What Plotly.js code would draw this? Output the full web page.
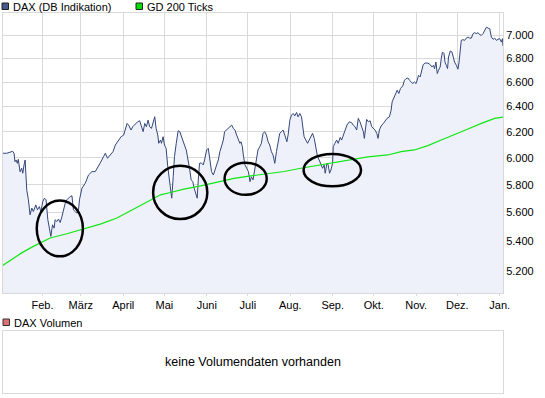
<!DOCTYPE html>
<html>
<head>
<meta charset="utf-8">
<script src="https://cdn.plot.ly/plotly-3.0.1.min.js"></script>
<style>
html,body{margin:0;padding:0;background:#fff;}
#chart{width:545px;height:398px;}
</style>
</head>
<body>
<div id="chart"></div>
<script>
// ---- data ----
// x: days since 2010-01-01, y: index level
const daxDays = [1.9,4.9,7.3,9.2,10.2,10.9,11.7,12.6,13.3,14.6,15.8,16.6,17.5,18.3,19.5,20.7,21.9,23.2,24.3,26.1,27.3,28.7,29.8,31.2,32.4,33.6,34.9,36.1,37.1,38.3,39.5,40.2,41.5,42.7,43.9,45.1,46.3,47.6,48.8,50.0,51.2,52.5,53.6,54.9,56.1,57.3,58.0,59.8,62.2,64.6,67.1,69.5,71.9,
73.2,75.6,76.9,78.5,80.5,82.5,84.2,86.6,88.4,90.3,91.5,92.8,93.9,95.7,96.9,98.1,99.6,100.5,102.0,103.0,104.5,105.7,106.9,108.1,109.3,110.6,111.8,113.0,114.0,115.2,115.9,117.2,117.9,119.1,120.1,121.3,122.5,123.7,124.5,125.4,126.5,127.4,128.7,130.1,131.3,132.5,133.8,134.7,136.0,137.2,138.4,139.6,140.8,141.8,143.0,144.0,144.8,145.7,
147.0,148.4,149.4,150.9,152.1,153.3,154.5,155.8,156.9,158.2,159.4,160.6,161.8,163.1,164.0,165.3,166.8,167.9,169.2,170.4,171.6,172.8,174.1,175.2,176.0,177.0,177.7,178.9,180.2,181.4,182.6,183.6,184.8,186.0,187.3,188.4,189.7,190.9,192.1,193.3,194.6,195.8,197.0,198.2,199.4,200.7,201.9,203.1,204.3,205.6,206.7,208.0,209.5,210.4,211.7,212.9,214.1,215.3,216.6,217.7,219.0,220.2,
221.4,222.1,223.4,224.6,225.8,227.0,228.3,229.5,230.7,231.9,233.1,234.4,235.6,236.8,237.5,238.8,239.7,240.7,241.7,242.9,243.4,244.6,245.9,247.0,248.5,249.5,250.7,251.9,253.4,255.1,256.9,258.0,259.3,260.5,261.7,262.9,264.2,265.4,266.1,266.8,267.8,269.0,270.3,271.5,272.7,273.9,275.2,276.1,277.1,278.3,280.0,281.3,282.7,284.4,285.7,286.4,287.6,288.8,290.1,291.3,292.5,
294.2,295.4,296.6,297.9,299.1,300.3,301.5,302.7,303.9,304.7,305.7,306.9,308.1,309.1,310.6,312.5,314.2,315.5,316.6,317.4,318.4,319.4,320.3,321.5,322.3,323.2,324.3,325.0,326.0,326.9,327.6,328.9,330.1,331.1,332.0,333.3,334.5,335.3,336.2,336.9,338.2,339.4,340.6,341.8,343.0,344.3,345.5,346.7,347.9,349.2,350.3,351.6,352.8,354.0,355.3,356.5,357.7,358.9,360.2,361.3,362.6,363.8,365.0,366.2,367.0,367.4];

const daxValues = [6034,6034,6042,6049,6034,5970,5983,5958,5988,5895,5921,5884,5946,5983,5762,5690,5584,5631,5607,5654,5619,5642,5607,5678,5702,5690,5549,5480,5434,5514,5491,5549,5537,5554,5530,5568,5619,5666,5690,5702,5714,5719,5619,5607,5595,5619,5690,5774,5810,5871,5896,5896,5946,
5961,6008,6034,5996,6021,6046,6097,6135,6161,6174,6226,6265,6252,6213,6239,6252,6265,6278,6286,6252,6200,6265,6239,6291,6239,6226,6278,6318,6226,6174,6110,6135,6110,6161,6097,6072,5933,5822,5750,5702,5858,6008,6110,6208,6200,6161,6110,6097,6059,5996,5921,5835,5822,5774,5737,5702,5835,5958,
5961,5946,5983,6059,6072,5983,5896,5871,5908,5946,5983,6046,6084,6135,6200,6213,6226,6239,6252,6226,6213,6174,6135,6110,6122,6084,6021,5946,5921,5896,5822,5858,5835,5908,5983,6059,6084,6110,6187,6200,6174,6122,6097,6046,6021,5958,6046,6135,6187,6200,6213,6174,6122,6174,6291,6331,6344,6325,6352,6317,6344,6317,
6228,6161,6135,6110,6135,6161,6187,6148,6059,6008,5983,5946,5921,5946,5884,5958,5946,5884,5908,5958,6084,6110,6135,6110,6156,6135,6174,6213,6252,6278,6270,6252,6239,6213,6305,6278,6239,6200,6148,6226,6297,6278,6286,6239,6226,6213,6187,6148,6213,6244,6265,6286,6305,6317,6371,6437,6465,6492,6533,6506,6547,
6568,6615,6629,6634,6615,6601,6588,6601,6588,6615,6657,6643,6713,6747,6760,6760,6747,6727,6741,6713,6769,6671,6699,6727,6798,6855,6842,6769,6741,6713,6812,6864,6855,6812,6769,6741,6708,6769,6913,6956,6962,6956,6976,6985,6976,6976,7015,7024,7015,7024,7006,7000,7015,7044,7073,7064,7059,6985,6965,6976,6956,6965,6971,6941,6971,6907];

const gdDays = [1.9,8.5,16.1,24.3,36.6,48.8,61.0,73.2,85.4,97.6,109.8,117.2,124.5,134.2,146.5,158.7,170.9,183.1,195.3,207.5,219.7,231.9,244.1,256.4,268.6,283.2,293.0,302.7,312.5,322.3,332.0,341.8,351.6,361.3,368.2];
const gdValues = [5239,5281,5324,5366,5423,5452,5487,5519,5561,5624,5690,5726,5743,5767,5791,5820,5846,5864,5879,5897,5921,5942,5964,5983,6006,6021,6046,6059,6092,6135,6180,6221,6265,6305,6317];

const monthTicks = ['2010-02-01','2010-03-01','2010-04-01','2010-05-01','2010-06-01','2010-07-01','2010-08-01','2010-09-01','2010-10-01','2010-11-01','2010-12-01','2011-01-01'];
const monthLabels = ['Feb.','März','April','Mai','Juni','Juli','Aug.','Sep.','Okt.','Nov.','Dez.','Jan.'];
const yTicks = [5200,5400,5600,5800,6000,6200,6400,6600,6800,7000];
const yTickLabels = ['5.200','5.400','5.600','5.800','6.000','6.200','6.400','6.600','6.800','7.000'];

const seriesNames = ['DAX (DB Indikation)','GD 200 Ticks'];
const volumeName = 'DAX Volumen';
const volumeMessage = 'keine Volumendaten vorhanden';

// highlighted zones: [startDay, endDay, lowValue, highValue]
const ellipses = [
  [26.8, 60.5, 5299, 5685],
  [111.8, 151.4, 5554, 5939],
  [164.0, 194.8, 5726, 5963],
  [221.7, 263.7, 5788, 6029]
];

// ---- helpers ----
function dayToMs(d){ return Date.UTC(2010,0,1) + Math.round(d*86400000); }
function dayToDate(d){
  return new Date(dayToMs(d)).toISOString().replace('T',' ').slice(0,19);
}
const W = 545, H = 398, L = 3, R = 42, T = 13, B = 5;
const PW = W - L - R, PH = H - T - B;
function px(x){ return (x - L)/PW; }
function py(y){ return (H - B - y)/PH; }

const GRID = '#d9d9d9';
const FONT = 'Liberation Sans, Arial, sans-serif';

const xStartDay = 2.14, xEndDay = 367.4;
const yLo = Math.log10(5060), yHi = Math.log10(7200);
const mainBottom = py(293);
const volTop = py(330.5);

// data -> paper (for the highlight ellipses)
function dayToPaper(d){ return (d - xStartDay)/(xEndDay - xStartDay); }
function valToPaper(v){ return mainBottom + (Math.log10(v) - yLo)/(yHi - yLo)*(1 - mainBottom); }

const traces = [
  {
    x: daxDays.map(dayToDate), y: daxValues, type: 'scatter', mode: 'lines',
    name: seriesNames[0], line: {color: '#34477a', width: 1},
    fill: 'tozeroy', fillcolor: 'rgba(238,241,250,1)', hoverinfo: 'skip',
    xaxis: 'x', yaxis: 'y'
  },
  {
    x: gdDays.map(dayToDate), y: gdValues, type: 'scatter', mode: 'lines',
    name: seriesNames[1], line: {color: '#11e611', width: 1.2},
    hoverinfo: 'skip', xaxis: 'x', yaxis: 'y'
  }
];

const shapes = ellipses.map(e => ({
  type: 'circle', xref: 'paper', yref: 'paper',
  x0: dayToPaper(e[0]), x1: dayToPaper(e[1]),
  y0: valToPaper(e[2]), y1: valToPaper(e[3]),
  line: {color: '#000', width: 2.5}, layer: 'above'
}));
// legend swatches
shapes.push({type:'rect', xref:'paper', yref:'paper', x0:px(2), x1:px(8.5), y0:py(9.5), y1:py(3), fillcolor:'#47598a', line:{color:'#222', width:1}});
shapes.push({type:'rect', xref:'paper', yref:'paper', x0:px(136), x1:px(142.5), y0:py(9.5), y1:py(3), fillcolor:'#00dd00', line:{color:'#222', width:1}});
shapes.push({type:'rect', xref:'paper', yref:'paper', x0:px(3), x1:px(9.5), y0:py(325.5), y1:py(319), fillcolor:'#e07070', line:{color:'#333', width:1}});

const annotations = [
  {xref:'paper', yref:'paper', x:px(11), y:py(6.5), text:seriesNames[0], showarrow:false, xanchor:'left', yanchor:'middle', font:{family:FONT, size:11, color:'#000'}},
  {xref:'paper', yref:'paper', x:px(145), y:py(6.5), text:seriesNames[1], showarrow:false, xanchor:'left', yanchor:'middle', font:{family:FONT, size:11, color:'#000'}},
  {xref:'paper', yref:'paper', x:px(12), y:py(322.5), text:volumeName, showarrow:false, xanchor:'left', yanchor:'middle', font:{family:FONT, size:11, color:'#000'}},
  {xref:'paper', yref:'paper', x:px(252.5), y:py(361.5), text:volumeMessage, showarrow:false, xanchor:'center', yanchor:'middle', font:{family:FONT, size:12.5, color:'#000'}}
];

const layout = {
  width: W, height: H,
  margin: {l: L, r: R, t: T, b: B, pad: 0},
  paper_bgcolor: '#fff', plot_bgcolor: '#fff',
  showlegend: false,
  font: {family: FONT, size: 11, color: '#000'},
  xaxis: {
    type: 'date', anchor: 'y', domain: [0,1],
    range: [dayToDate(xStartDay), dayToDate(xEndDay)],
    tickmode: 'array', tickvals: monthTicks, ticktext: monthLabels,
    showgrid: true, gridcolor: GRID, gridwidth: 1,
    ticks: 'outside', ticklen: 2, tickcolor: GRID, tickwidth: 1,
    showline: true, linecolor: GRID, linewidth: 1, mirror: true,
    zeroline: false, tickfont: {family: FONT, size: 11, color: '#000'},
    fixedrange: true
  },
  yaxis: {
    type: 'log', anchor: 'x', domain: [mainBottom, 1], side: 'right',
    range: [yLo, yHi],
    tickmode: 'array', tickvals: yTicks, ticktext: yTickLabels,
    showgrid: true, gridcolor: GRID, gridwidth: 1,
    ticks: '', showline: true, linecolor: GRID, linewidth: 1, mirror: true,
    zeroline: false, tickfont: {family: FONT, size: 11, color: '#000'},
    fixedrange: true
  },
  xaxis2: {
    anchor: 'y2', domain: [0,1], range: [0,1], showgrid: false, zeroline: false,
    showticklabels: false, ticks: '', showline: true, linecolor: GRID, linewidth: 1, mirror: true, fixedrange: true
  },
  yaxis2: {
    anchor: 'x2', domain: [0, volTop], range: [0,1], showgrid: false, zeroline: false,
    showticklabels: false, ticks: '', showline: true, linecolor: GRID, linewidth: 1, mirror: true, fixedrange: true
  },
  shapes: shapes,
  annotations: annotations
};

// empty trace so the volume axes are drawn
traces.push({x: [], y: [], type: 'scatter', mode: 'lines', xaxis: 'x2', yaxis: 'y2', hoverinfo: 'skip'});

Plotly.newPlot('chart', traces, layout, {staticPlot: true, displayModeBar: false});
</script>
</body>
</html>
